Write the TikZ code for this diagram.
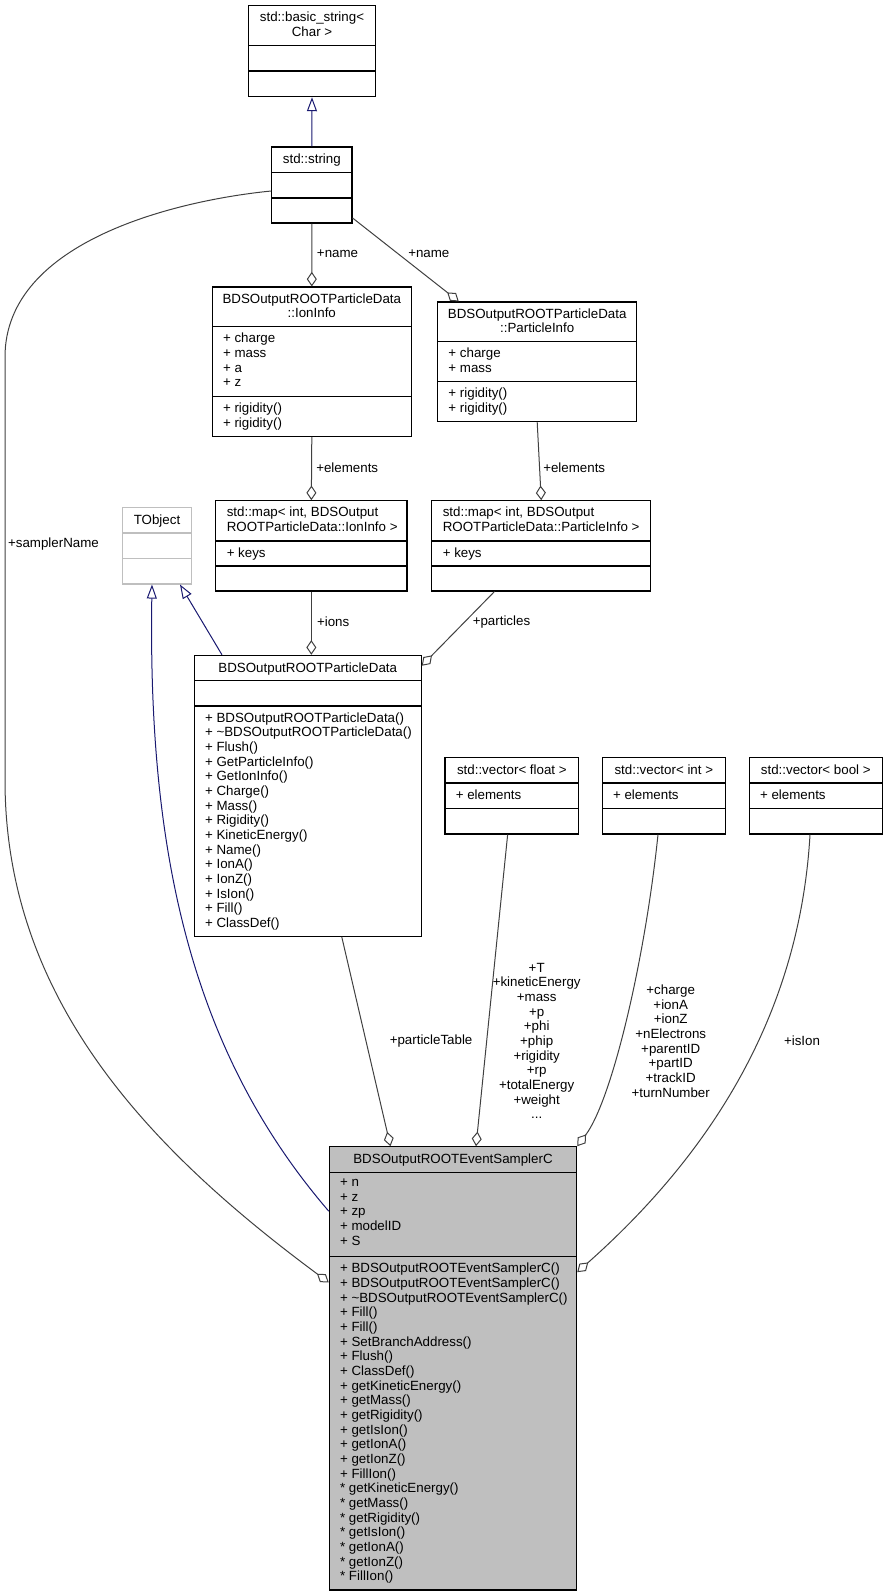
\documentclass[tikz,border=0pt]{standalone}
\usepackage{fontspec}
\setmainfont{Liberation Sans}
\usetikzlibrary{arrows.meta,calc,fit}
\definecolor{edgegray}{HTML}{404040}
\definecolor{inhblue}{HTML}{191970}
\definecolor{boxgray}{HTML}{BFBFBF}

\begin{document}
\begin{tikzpicture}[x=0.75pt,y=-0.75pt,
    cls/.style={draw=black, line width=0.8pt, inner sep=0pt},
    extcls/.style={draw=boxgray, line width=0.8pt, inner sep=0pt},
    divline/.style={line width=0.8pt},
    clsname/.style={font=\fontsize{10}{11}\selectfont, inner sep=0pt, anchor=north, yshift=7.7pt,
        align=center, execute at begin node=\strut},
    memb/.style={font=\fontsize{10}{11}\selectfont, inner sep=0pt, anchor=north west, yshift=7.7pt,
        align=left, execute at begin node=\strut},
    lbl/.style={font=\fontsize{10}{11}\selectfont, inner sep=0pt, align=center},
    aggr/.style={draw=edgegray, line width=0.75pt, -{Diamond[open, length=11pt, width=7.5pt]}},
    inherit/.style={draw=inhblue, line width=0.75pt, -{Triangle[open, length=10.5pt, width=7.5pt]}}]
    \useasboundingbox (0,0) rectangle (887,1596);

    % class boxes
    \node[cls, fit={(248.5,5.5) (375.5,96.7)}] (bstring) {};
    \draw[divline] (248.5,45.7) -- (375.5,45.7) (248.5,71) -- (375.5,71);
    \node[clsname] (bstring-n) at (312,22) {std::basic\_string<\\Char >};

    \node[cls, fit={(271.7,147) (352,223)}] (stdstring) {};
    \draw[divline] (271.7,172.7) -- (352,172.7) (271.7,198) -- (352,198);
    \node[clsname] (stdstring-n) at (311.85,163.5) {std::string};

    \node[cls, fit={(212.3,287) (411.3,436.3)}] (ioninfo) {};
    \draw[divline] (212.3,326.7) -- (411.3,326.7) (212.3,396.7) -- (411.3,396.7);
    \node[clsname] (ioninfo-n) at (311.8,303.5) {BDSOutputROOTParticleData\\::IonInfo};
    \node[memb] (ioninfo-a) at (222.8,343.2) {+ charge\\+ mass\\+ a\\+ z};
    \node[memb] (ioninfo-m) at (222.8,413.2) {+ rigidity()\\+ rigidity()};

    \node[cls, fit={(437.7,302) (636.7,421.7)}] (partinfo) {};
    \draw[divline] (437.7,341.7) -- (636.7,341.7) (437.7,381.7) -- (636.7,381.7);
    \node[clsname] (partinfo-n) at (537.2,318.5) {BDSOutputROOTParticleData\\::ParticleInfo};
    \node[memb] (partinfo-a) at (448.2,358.2) {+ charge\\+ mass};
    \node[memb] (partinfo-m) at (448.2,398.2) {+ rigidity()\\+ rigidity()};

    \node[extcls, fit={(122.7,507.3) (191.3,584)}] (tobject) {};
    \draw[divline, boxgray] (122.7,533) -- (191.3,533) (122.7,558.7) -- (191.3,558.7);
    \node[clsname] (tobject-n) at (157,523.8) {TObject};

    \node[cls, fit={(215.7,500.7) (407,591)}] (ionmap) {};
    \draw[divline] (215.7,541) -- (407,541) (215.7,566) -- (407,566);
    \node[memb] (ionmap-n) at (226.5,517.3) {std::map< int, BDSOutput\\ROOTParticleData::IonInfo >};
    \node[memb] (ionmap-a) at (226.5,557.5) {+ keys};

    \node[cls, fit={(431.8,500.7) (650.7,591)}] (partmap) {};
    \draw[divline] (431.8,541) -- (650.7,541) (431.8,566) -- (650.7,566);
    \node[memb] (partmap-n) at (442.5,517.3) {std::map< int, BDSOutput\\ROOTParticleData::ParticleInfo >};
    \node[memb] (partmap-a) at (442.5,557.5) {+ keys};

    \node[cls, fit={(194.3,655.3) (421.2,936.3)}] (partdata) {};
    \draw[divline] (194.3,680.7) -- (421.2,680.7) (194.3,706) -- (421.2,706);
    \node[clsname] (partdata-n) at (307.75,672) {BDSOutputROOTParticleData};
    \node[memb] (partdata-m) at (204.8,722.5) {+ BDSOutputROOTParticleData()\\+ \textasciitilde BDSOutputROOTParticleData()\\+ Flush()\\+ GetParticleInfo()\\+ GetIonInfo()\\+ Charge()\\+ Mass()\\+ Rigidity()\\+ KineticEnergy()\\+ Name()\\+ IonA()\\+ IonZ()\\+ IsIon()\\+ Fill()\\+ ClassDef()};

    \node[cls, fit={(445,757.7) (578.7,834)}] (vfloat) {};
    \draw[divline] (445,783) -- (578.7,783) (445,808.3) -- (578.7,808.3);
    \node[clsname] (vfloat-n) at (511.85,774.2) {std::vector< float >};
    \node[memb] (vfloat-a) at (455.5,799.5) {+ elements};

    \node[cls, fit={(602.3,757.7) (725.3,834)}] (vint) {};
    \draw[divline] (602.3,783) -- (725.3,783) (602.3,808.3) -- (725.3,808.3);
    \node[clsname] (vint-n) at (663.8,774.2) {std::vector< int >};
    \node[memb] (vint-a) at (612.8,799.5) {+ elements};

    \node[cls, fit={(749.3,757.7) (882.3,834)}] (vbool) {};
    \draw[divline] (749.3,783) -- (882.3,783) (749.3,808.3) -- (882.3,808.3);
    \node[clsname] (vbool-n) at (815.8,774.2) {std::vector< bool >};
    \node[memb] (vbool-a) at (759.8,799.5) {+ elements};

    \node[cls, fill=boxgray, fit={(329.3,1146.7) (576.7,1590)}] (sampler) {};
    \draw[divline] (329.3,1172.3) -- (576.7,1172.3) (329.3,1256.7) -- (576.7,1256.7);
    \node[clsname] (sampler-n) at (453,1163.2) {BDSOutputROOTEventSamplerC};
    \node[memb] (sampler-a) at (339.8,1188.8) {+ n\\+ z\\+ zp\\+ modelID\\+ S};
    \node[memb] (sampler-m) at (339.8,1273.2) {+ BDSOutputROOTEventSamplerC()\\+ BDSOutputROOTEventSamplerC()\\+ \textasciitilde BDSOutputROOTEventSamplerC()\\+ Fill()\\+ Fill()\\+ SetBranchAddress()\\+ Flush()\\+ ClassDef()\\+ getKineticEnergy()\\+ getMass()\\+ getRigidity()\\+ getIsIon()\\+ getIonA()\\+ getIonZ()\\+ FillIon()\\* getKineticEnergy()\\* getMass()\\* getRigidity()\\* getIsIon()\\* getIonA()\\* getIonZ()\\* FillIon()};

    % inheritance
    \draw[inherit] (stdstring.north) -- (bstring.south);
    \draw[inherit] ($(partdata.north west)+(28.2,0)$) -- ($(tobject.south)+(23,0)$);
    \draw[inherit] ($(sampler.north west)+(0,65)$) .. controls (190,1050) and (148,850) .. ($(tobject.south)+(-5,0)$);

    % members
    \draw[aggr] (stdstring.south) -- (ioninfo.north);
    \node[lbl, anchor=west] (l-name1) at (316.7,254) {+name};
    \draw[aggr] (stdstring.-39.5) -- ($(partinfo.north west)+(21.6,0)$);
    \node[lbl, anchor=west] (l-name2) at (408,254) {+name};
    \draw[aggr] (ioninfo.south) -- (ionmap.north);
    \node[lbl, anchor=west] (l-elem1) at (316,467.5) {+elements};
    \draw[aggr] (partinfo.south) -- (partmap.north);
    \node[lbl, anchor=west] (l-elem2) at (543,467.5) {+elements};
    \draw[aggr] (ionmap.south) -- (ionmap.south |- partdata.north);
    \node[lbl, anchor=west] (l-ions) at (316.8,621.7) {+ions};
    \draw[aggr] ($(partmap.south west)+(63.2,0)$) -- ($(partdata.north east)+(0,11)$);
    \node[lbl, anchor=west] (l-parts) at (472.5,621.7) {+particles};
    \draw[aggr] ($(partdata.south)+(34,0)$) -- ($(sampler.north west)+(61.7,0)$);
    \node[lbl, anchor=west] (l-table) at (389.5,1041) {+particleTable};
    \draw[aggr] ($(vfloat.south)+(-4.2,0)$) -- ($(sampler.north)+(23,0)$);
    \node[lbl] (l-float) at (536.7,1041) {+T\\+kineticEnergy\\+mass\\+p\\+phi\\+phip\\+rigidity\\+rp\\+totalEnergy\\+weight\\...};
    \draw[aggr] ($(vint.south)+(-5.8,0)$) .. controls (645,960) and (612,1100) .. (sampler.north east);
    \node[lbl] (l-int) at (670.7,1041) {+charge\\+ionA\\+ionZ\\+nElectrons\\+parentID\\+partID\\+trackID\\+turnNumber};
    \draw[aggr] ($(vbool.south)+(-5.8,0)$) .. controls (800,1010) and (715,1150) .. ($(sampler.north east)+(0,126)$);
    \node[lbl] (l-ision) at (802,1041) {+isIon};
    \draw[aggr] ($(stdstring.west)+(0,6)$) .. controls (180,200) and (5,240) .. (5,357) -- (5,780) .. controls (5,1000) and (150,1150) .. ($(sampler.north west)+(0,136.3)$);
    \node[lbl] (l-sname) at (53.5,544.5) {+samplerName};
\end{tikzpicture}
\end{document}
